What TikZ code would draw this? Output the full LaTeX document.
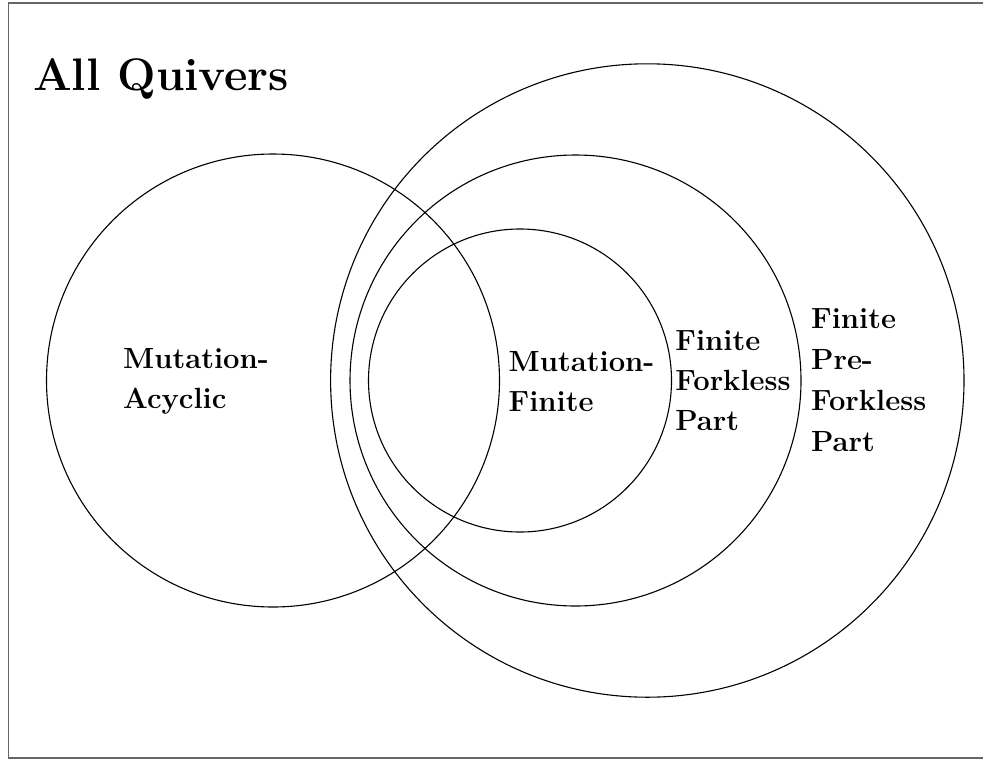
\documentclass[tikz,border=0pt]{standalone}
\begin{document}
\begin{tikzpicture}[x=0.5pt,y=-0.5pt,
  frameline/.style={draw=black!60,line width=0.8pt},
  ring/.style={draw=black,line width=0.55pt},
  lbl/.style={anchor=base west,inner sep=0pt,font=\fontsize{14.6}{20}\selectfont\bfseries},
  ttl/.style={anchor=base west,inner sep=0pt,font=\fontsize{22.8}{28}\selectfont\bfseries}]
\useasboundingbox (0,0) rectangle (983,760);
% frame
\draw[frameline] (995,2.8) -- (8.6,2.8) -- (8.6,758) -- (995,758);
% circles
\draw[ring] (273,380.5) circle (226.5);
\draw[ring] (647.3,380.5) circle (316.7);
\draw[ring] (575.5,380.5) circle (225.5);
\draw[ring] (520,380.5) circle (151.5);
% title
\node[ttl] (title) at (32.7,90) {All Quivers};
% labels
\node[lbl] (ma1) at (122.7,368.3) {Mutation-};
\node[lbl] (ma2) at (122.7,408.3) {Acyclic};
\node[lbl] (mf1) at (508.3,371.7) {Mutation-};
\node[lbl] (mf2) at (508.3,411.7) {Finite};
\node[lbl] (ff1) at (675,350) {Finite};
\node[lbl] (ff2) at (675,390.5) {Forkless};
\node[lbl] (ff3) at (675,430.5) {Part};
\node[lbl] (pf1) at (810.7,328.3) {Finite};
\node[lbl] (pf2) at (810.7,369) {Pre-};
\node[lbl] (pf3) at (810.7,410) {Forkless};
\node[lbl] (pf4) at (810.7,451) {Part};
\end{tikzpicture}
\end{document}
